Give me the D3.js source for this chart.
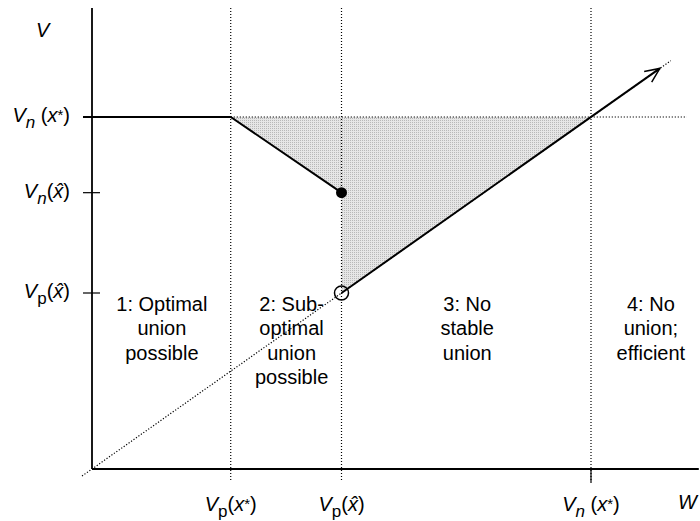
<!DOCTYPE html>
<html>
<head>
<meta charset="utf-8">
<script src="https://cdn.jsdelivr.net/npm/d3@7"></script>
<style>
  html, body { margin: 0; padding: 0; background: #fff; }
  svg { display: block; font-family: "Liberation Sans", Arial, Helvetica, sans-serif; }
</style>
</head>
<body>
<svg id="chart" width="700" height="521"></svg>
<script>
// ---- data (model units: W on x, V on y; diagonal is V = W) ----
const wBreakNames = ["Vp(x*)", "Vp(x̂)", "Vn(x*)"];
const wBreaks     = [2.78, 5.0, 10.0];          // positions on W axis
const vLevelNames = ["Vn(x*)", "Vn(x̂)", "Vp(x̂)"];
const vLevels     = [10.0, 7.85, 5.0];          // positions on V axis
const wDomain     = [0, 10];
const vDomain     = [0, 10];
const axisExtentW = 12.16;
const axisExtentV = 13.1;
const diagStart   = -0.2;
const diagEnd     = 11.6;
const arrowEnd    = 11.38;
const flatStartW  = -0.18;
const regionCenters = [1.4, 4.0, 7.52, 11.2];
const regionLabels = [
  ["1: Optimal", "union", "possible"],
  ["2: Sub-", "optimal", "union", "possible"],
  ["3: No", "stable", "union"],
  ["4: No", "union;", "efficient"]
];

// ---- scales ----
const x = d3.scaleLinear().domain(wDomain).range([92, 591]);
const y = d3.scaleLinear().domain(vDomain).range([469, 117]);

const svg = d3.select("#chart");
const g = svg.append("g");

const VnStar = vLevels[0], VnHat = vLevels[1], VpHat = vLevels[2];
const WpStar = wBreaks[0], WpHat = wBreaks[1], WnStar = wBreaks[2];

// stipple pattern for shaded region
const defs = svg.append("defs");
const pat = defs.append("pattern").attr("id", "stip").attr("patternUnits", "userSpaceOnUse")
  .attr("width", 2).attr("height", 2);
pat.append("rect").attr("width", 2).attr("height", 2).attr("fill", "#e6e6e6");
pat.append("rect").attr("width", 1).attr("height", 1).attr("fill", "#b8b8b8");

// shaded region
const shade = [[WpStar, VnStar], [WnStar, VnStar], [WpHat, VpHat], [WpHat, VnHat]];
g.append("path")
  .attr("d", d3.line().x(d => x(d[0])).y(d => y(d[1]))(shade) + "Z")
  .attr("fill", "url(#stip)").attr("stroke", "none");

const dotted = sel => sel.attr("stroke", "#000").attr("stroke-width", 1.2)
  .attr("stroke-dasharray", "1.2,1.8").attr("fill", "none");

// vertical dotted lines
wBreaks.forEach((w, i) => {
  const ln = g.append("line").attr("x1", x(w)).attr("x2", x(w))
    .attr("y1", y(axisExtentV)).attr("y2", y(0) + 13);
  dotted(ln);
});
// solid tick at Vn(x*)
g.append("line").attr("x1", x(WnStar)).attr("x2", x(WnStar))
  .attr("y1", y(0)).attr("y2", y(0) + 14).attr("stroke", "#000").attr("stroke-width", 1.2);

// horizontal dotted at Vn(x*)
dotted(g.append("line").attr("x1", x(WpStar)).attr("x2", x(axisExtentW) - 12)
  .attr("y1", y(VnStar)).attr("y2", y(VnStar)));

// diagonal dotted
dotted(g.append("line").attr("x1", x(diagStart)).attr("y1", y(diagStart))
  .attr("x2", x(diagEnd)).attr("y2", y(diagEnd)));

// solid diagonal from circle to arrow
g.append("line").attr("x1", x(WpHat)).attr("y1", y(VpHat))
  .attr("x2", x(arrowEnd)).attr("y2", y(arrowEnd))
  .attr("stroke", "#000").attr("stroke-width", 2);

// arrowhead
{
  const tx = x(arrowEnd), ty = y(arrowEnd);
  const ang = Math.atan2(ty - y(VpHat), tx - x(WpHat));
  const L = 16, spread = 0.42;
  const p1 = [tx - L * Math.cos(ang - spread), ty - L * Math.sin(ang - spread)];
  const p2 = [tx - L * Math.cos(ang + spread), ty - L * Math.sin(ang + spread)];
  g.append("path")
    .attr("d", `M${p1[0]},${p1[1]}L${tx},${ty}L${p2[0]},${p2[1]}`)
    .attr("fill", "none").attr("stroke", "#000").attr("stroke-width", 1.5);
}

// solid flat line + sloped segment
g.append("path")
  .attr("d", d3.line().x(d => x(d[0])).y(d => y(d[1]))([[flatStartW, VnStar], [WpStar, VnStar], [WpHat, VnHat]]))
  .attr("fill", "none").attr("stroke", "#000").attr("stroke-width", 2);

// points
g.append("circle").attr("cx", x(WpHat)).attr("cy", y(VnHat)).attr("r", 5.5).attr("fill", "#000");
g.append("circle").attr("cx", x(WpHat)).attr("cy", y(VpHat)).attr("r", 7)
  .attr("fill", "none").attr("stroke", "#000").attr("stroke-width", 1.5);

// axes
g.append("line").attr("x1", x(0)).attr("x2", x(0)).attr("y1", y(axisExtentV)).attr("y2", y(0))
  .attr("stroke", "#000").attr("stroke-width", 1.8);
g.append("line").attr("x1", x(0)).attr("x2", x(axisExtentW)).attr("y1", y(0)).attr("y2", y(0))
  .attr("stroke", "#000").attr("stroke-width", 1.8);
// y ticks
[VnHat, VpHat].forEach(v => {
  g.append("line").attr("x1", x(0) - 9).attr("x2", x(0) + 8).attr("y1", y(v)).attr("y2", y(v))
    .attr("stroke", "#000").attr("stroke-width", 1.2);
});

// label helper: "Vsub(arg)"
function label(sel, name) {
  const sub = name[1];
  const arg = name.slice(3, -1);
  const star = arg.endsWith("*");
  sel.attr("font-size", 20).attr("fill", "#000");
  sel.append("tspan").attr("font-style", "italic").text("V");
  sel.append("tspan").attr("font-size", 17).attr("dy", 6)
    .attr("font-style", sub === "n" ? "italic" : "normal").text(sub);
  sel.append("tspan").attr("dy", -6).text(sub === "n" && star ? " (" : "(");
  sel.append("tspan").attr("font-style", "italic").text(star ? arg.slice(0, -1) : arg);
  if (star) sel.append("tspan").attr("font-size", 15).attr("dy", -2).text("*");
  sel.append("tspan").attr("dy", star ? 2 : 0).text(")");
}

// x-axis labels
wBreakNames.forEach((n, i) => {
  const t = g.append("text").attr("x", x(wBreaks[i])).attr("y", 511).attr("text-anchor", "middle");
  label(t, n);
});
// y-axis labels
vLevelNames.forEach((n, i) => {
  const t = g.append("text").attr("x", 70).attr("y", y(vLevels[i]) + 5).attr("text-anchor", "end");
  label(t, n);
});
// axis titles
g.append("text").attr("x", 36).attr("y", 37).attr("font-size", 20).attr("font-style", "italic").text("V");
g.append("text").attr("x", 678).attr("y", 509).attr("font-size", 20).attr("font-style", "italic").text("W");

// region labels
regionLabels.forEach((lines, i) => {
  const t = g.append("text").attr("x", x(regionCenters[i])).attr("y", 311)
    .attr("text-anchor", "middle").attr("font-size", 20).attr("fill", "#000");
  lines.forEach((s, j) => {
    t.append("tspan").attr("x", x(regionCenters[i])).attr("dy", j === 0 ? 0 : 24.3).text(s);
  });
});
</script>
</body>
</html>
